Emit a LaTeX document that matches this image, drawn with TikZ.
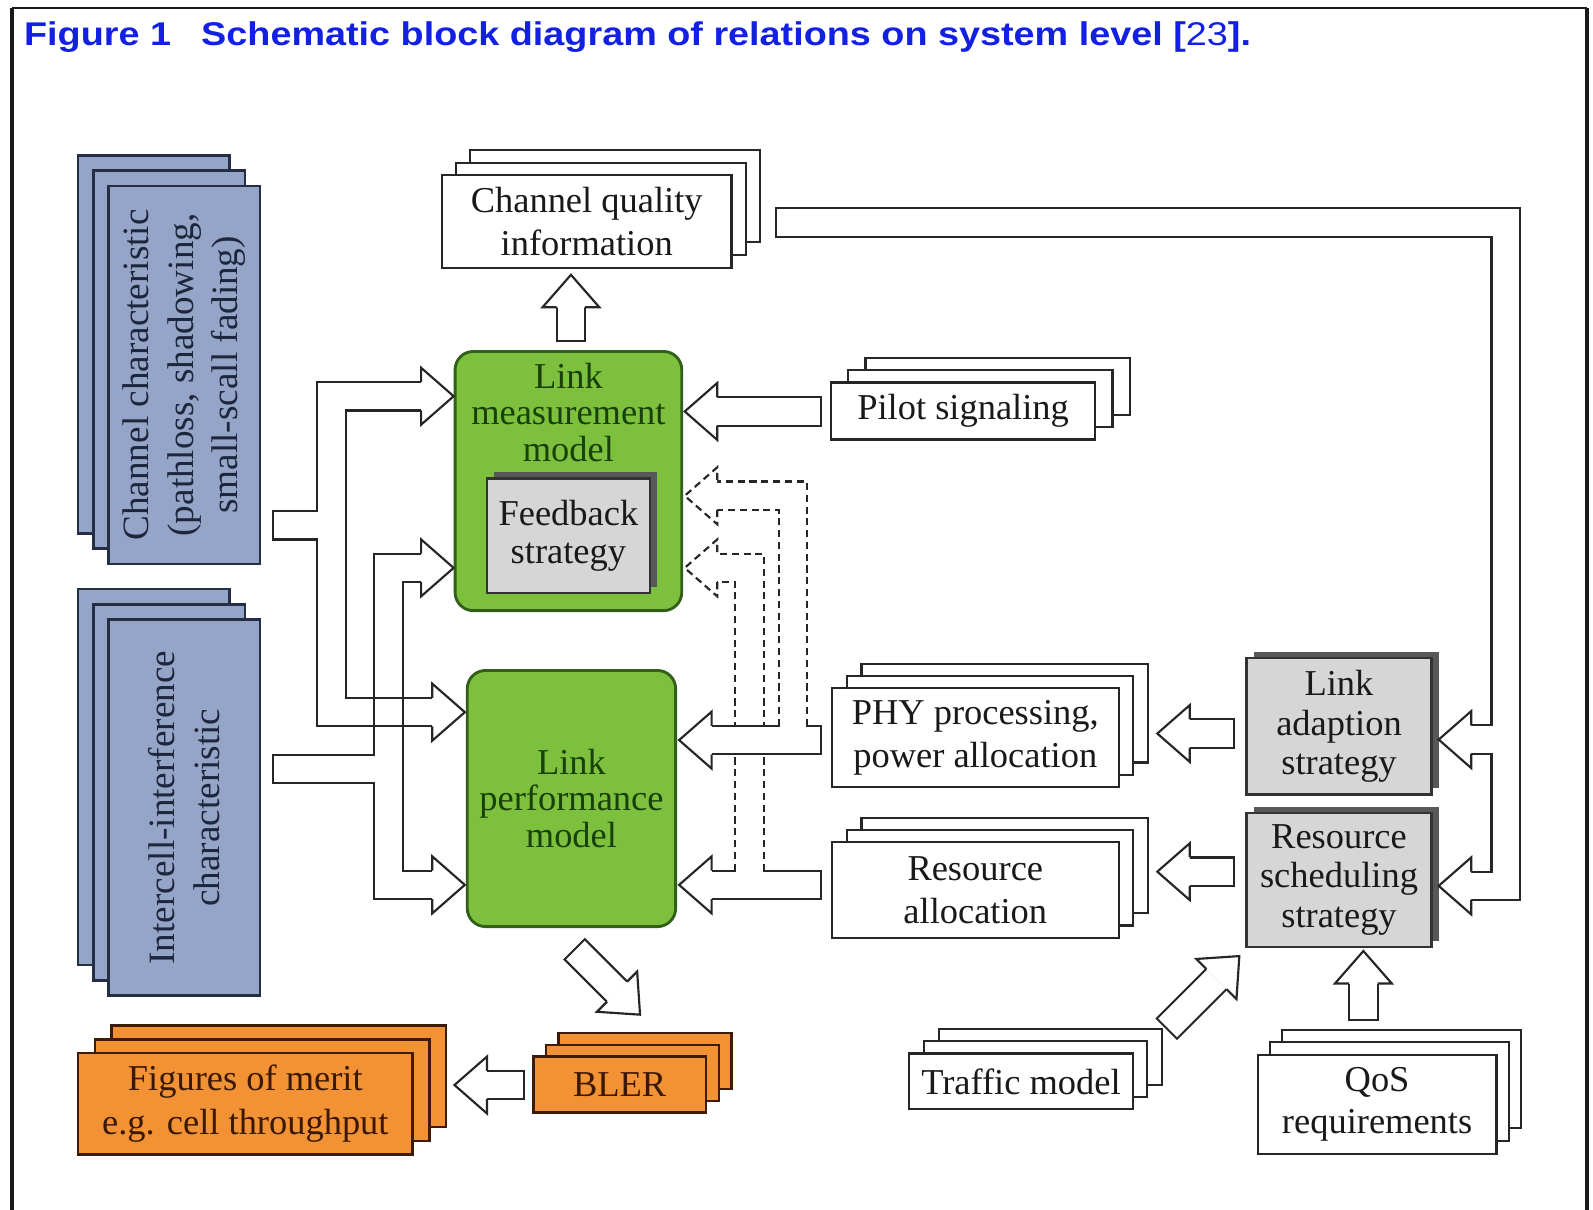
\documentclass[tikz,border=0pt]{standalone}
\usepackage{fontspec}
\setmainfont{Liberation Serif}
\newfontfamily\headfont{Liberation Sans}
\usepackage{graphicx}
\usetikzlibrary{calc,shadows}

\definecolor{titleblue}{RGB}{18,32,228}
\definecolor{chfill}{RGB}{149,165,199}
\definecolor{chline}{RGB}{38,46,70}
\definecolor{chtext}{RGB}{30,38,62}
\definecolor{gfill}{RGB}{125,192,62}
\definecolor{gline}{RGB}{50,96,24}
\definecolor{gtext}{RGB}{24,64,8}
\definecolor{ofill}{RGB}{242,146,52}
\definecolor{oline}{RGB}{60,28,6}
\definecolor{otext}{RGB}{58,24,2}
\definecolor{sfill}{RGB}{214,214,214}
\definecolor{sshadow}{RGB}{88,88,88}

\tikzset{
  txt/.style={font=\fontsize{10.2}{12}\selectfont, align=center},
  stack/.style 2 args={copy shadow={shadow xshift=#1, shadow yshift=#2}},
  wbox/.style={draw=black!85, fill=white, line width=0.6pt, text=black!90, txt},
  bbox/.style={draw=chline, fill=chfill, line width=0.7pt},
  obox/.style={draw=oline, fill=ofill, line width=0.7pt, text=otext, font=\fontsize{10.2}{12.4}\selectfont, align=center},
  gbox/.style={draw=gline, fill=gfill, line width=0.8pt, rounded corners=0.18cm, text=gtext, font=\fontsize{10.2}{10.2}\selectfont, align=center},
  sbox/.style={draw=black!80, fill=sfill, line width=0.6pt, text=black!90, font=\fontsize{10.2}{11}\selectfont, align=center,
    drop shadow={shadow xshift=0.07cm, shadow yshift=0.06cm, fill=sshadow, opacity=1}},
  shaft/.style={line width=8.57pt, black!85, line join=miter, line cap=butt},
  hollow/.style={line width=7.37pt, white, line join=miter, line cap=butt, shorten <=0.6pt},
  dashes/.style={dash pattern=on 2pt off 1.3pt},
  fbline/.style={line width=0.6pt, black!85, dashes},
  bhead/.pic={\filldraw[fill=white, draw=black!85, line width=0.6pt, line join=miter] (-32,-14) -- (-32,-28) -- (0,0) -- (-32,28) -- (-32,14);}
}

\begin{document}
\begin{tikzpicture}[x=0.01cm, y=-0.01cm]
\useasboundingbox (0,0) rectangle (1568,1191);
\fill[white] (0,0) rectangle (1568,1191);
% frame and caption
\draw[line width=1.2pt, black!90] (12,1191) -- (12,8);
\draw[line width=1.2pt, black!90] (1562,8) -- (1562,1191);
\draw[line width=0.7pt, black!90] (12,8) -- (1562,8);
\node[anchor=base west, inner sep=0pt, text=titleblue] (caption) at (23,45)
  {\headfont\fontsize{9.2}{10}\selectfont\bfseries\resizebox{12.07cm}{\height}{Figure 1\hspace{0.8em}Schematic block diagram of relations on system level [{\mdseries 23}].}};

% input characteristics
\node[bbox, stack={-0.30cm}{0.30cm}, stack={-0.15cm}{0.15cm}, minimum width=1.49cm, minimum height=3.72cm] (chan) at (181.5,369) {};
\node[txt, rotate=90, text=chtext, font=\fontsize{10.4}{12.5}\selectfont] at (chan) {Channel characteristic\\(pathloss, shadowing,\\small-scall fading)};
\node[bbox, stack={-0.30cm}{0.30cm}, stack={-0.15cm}{0.15cm}, minimum width=1.49cm, minimum height=3.70cm] (inter) at (181.5,795) {};
\node[txt, rotate=90, text=chtext, font=\fontsize{10.4}{12.5}\selectfont] at (inter) {Intercell-interference\\characteristic};

% link models
\node[wbox, stack={0.28cm}{0.25cm}, stack={0.14cm}{0.125cm}, minimum width=2.85cm, minimum height=0.88cm] (cqi) at (577.5,218) {Channel quality\\information};
\node[gbox, minimum width=2.23cm, minimum height=2.55cm] (lmm) at (559.5,473.5) {};
\node[text=gtext, font=\fontsize{10.2}{10.2}\selectfont, align=center, anchor=north, inner sep=0pt] at ($(lmm.north)+(0,12)$) {Link\\measurement\\model};
\node[sbox, minimum width=1.57cm, minimum height=1.13cm, font=\fontsize{10.2}{10.5}\selectfont] (fb) at (559.5,527.5) {Feedback\\strategy};
\node[gbox, minimum width=2.05cm, minimum height=2.52cm] (lpm) at (562.5,786) {Link\\performance\\model};

% right side
\node[wbox, stack={0.34cm}{0.24cm}, stack={0.17cm}{0.12cm}, minimum width=2.60cm, minimum height=0.55cm] (pilot) at (948,404.5) {Pilot signaling};
\node[wbox, stack={0.29cm}{0.24cm}, stack={0.145cm}{0.12cm}, minimum width=2.82cm, minimum height=0.92cm] (phy) at (960,726) {PHY processing,\\power allocation};
\node[wbox, stack={0.29cm}{0.24cm}, stack={0.145cm}{0.12cm}, minimum width=2.82cm, minimum height=0.94cm] (resalloc) at (960,876) {Resource\\allocation};
\node[sbox, minimum width=1.82cm, minimum height=1.34cm] (las) at (1318,715) {Link\\adaption\\strategy};
\node[sbox, minimum width=1.82cm, minimum height=1.32cm] (rss) at (1318,866) {Resource\\scheduling\\strategy};
\node[wbox, stack={0.29cm}{0.24cm}, stack={0.145cm}{0.12cm}, minimum width=2.16cm, minimum height=0.55cm] (traffic) at (1005,1064.5) {Traffic model};
\node[wbox, stack={0.24cm}{0.25cm}, stack={0.12cm}{0.125cm}, minimum width=2.35cm, minimum height=0.94cm] (qos) at (1355.5,1087) {QoS\\requirements};

% outputs
\node[obox, stack={0.25cm}{0.23cm}, stack={0.125cm}{0.115cm}, minimum width=1.70cm, minimum height=0.55cm] (bler) at (610,1067.5) {BLER};
\node[obox, stack={0.33cm}{0.27cm}, stack={0.165cm}{0.135cm}, minimum width=3.29cm, minimum height=0.99cm] (figs) at (241.5,1086.5) {Figures of merit\\e.g. cell throughput};

% arrow ends
\coordinate (upT) at ($(lmm.north)+(2.5,-8)$);
\coordinate (upH) at ($(upT |- cqi.south)+(0,6)$);
\coordinate (plT) at ($(pilot.west)+(-8,0.5)$);
\coordinate (plH) at ($(lmm.east |- plT)+(1.5,0)$);
\coordinate (phT) at ($(phy.west)+(-9,2.5)$);
\coordinate (phH) at ($(lpm.east |- phT)+(2,0)$);
\coordinate (raT) at ($(resalloc.west)+(-9,-5)$);
\coordinate (raH) at ($(lpm.east |- raT)+(2,0)$);
\coordinate (fbH1) at ($(lmm.east)+(1.5,14.5)$);
\coordinate (fbH2) at ($(lmm.east)+(1.5,85.5)$);
\coordinate (laT) at ($(las.west)+(-10,7)$);
\coordinate (laH) at ($(phy.east |- laT)+(37,0)$);
\coordinate (rsT) at ($(rss.west)+(-10,-8)$);
\coordinate (rsH) at ($(resalloc.east |- rsT)+(37,0)$);
\coordinate (lpT) at ($(cqi.east)+(42,1)$);
\coordinate (lpH1) at ($(las.east)+(6,13)$);
\coordinate (lpH2) at ($(rss.east)+(6,6)$);
\coordinate (qoT) at ($(qos.north)+(-13.5,-32)$);
\coordinate (qoH) at ($(qoT |- rss.south)+(0,3)$);
\coordinate (trH) at ($(rss.south west)+(-6,8)$);
\coordinate (trT) at ($(trH)+(-72,72)$);
\coordinate (blH) at ($(bler.north)+(20,-40)$);
\coordinate (blT) at ($(blH)+(-65,-65)$);
\coordinate (fgT) at ($(bler.west)+(-7,0.5)$);
\coordinate (fgH) at ($(figs.east |- fgT)+(40,0)$);
\coordinate (chS) at ($(chan.east)+(10,148)$);
\coordinate (icS) at ($(inter.east)+(10,-38)$);
\coordinate (in1) at ($(lmm.west)+(0,-83.5)$);
\coordinate (in2) at ($(lmm.west)+(0,85.5)$);
\coordinate (in3) at ($(lpm.west)+(-1,-85)$);
\coordinate (in4) at ($(lpm.west)+(-1,85)$);

% block arrow shafts
\foreach \s in {shaft,hollow} \foreach \t in {in1,in3}
  \draw[\s] (chS) -- ++(59,0) |- ($(\t)+(-32,0)$);
\foreach \s in {shaft,hollow} \foreach \t in {in2,in4}
  \draw[\s] (icS) -- ++(115,0) |- ($(\t)+(-32,0)$);
\draw[line width=0.6pt, black!85] ($(in3)+(-100,-14)$) -- ++(44,0) ($(in3)+(-100,14)$) -- ++(44,0);

% feedback branches (dashed)
\draw[shaft] (raT) -- ($(raH)+(32,0)$);
\draw[hollow] (raT) -- ($(raH)+(32,0)$);
\draw[hollow] ($(raT)+(-71,0)$) |- ($(fbH2)+(32,0)$);
\draw[fbline] ($(raT)+(-57,-14)$) |- ($(fbH2)+(32,-14)$);
\draw[fbline] ($(raT)+(-85,-14)$) |- ($(fbH2)+(32,14)$);
\draw[shaft] (phT) -- ($(phH)+(32,0)$);
\draw[hollow] (phT) -- ($(phH)+(32,0)$);
\draw[hollow] ($(phT)+(-28.5,0)$) |- ($(fbH1)+(32,0)$);
\draw[fbline] ($(phT)+(-14.5,-14)$) |- ($(fbH1)+(32,-14)$);
\draw[fbline] ($(phT)+(-42.5,-14)$) |- ($(fbH1)+(32,14)$);

\foreach \s in {shaft,hollow}{
  \draw[\s] (lpT) -| ($(lpH1)+(66,0)$) -- ($(lpH1)+(32,0)$);
  \draw[\s] ($(lpH1)+(66,-20)$) |- ($(lpH2)+(32,0)$);
}

\foreach \s in {shaft,hollow}{
  \draw[\s] (upT) -- ($(upH)+(0,32)$);
  \draw[\s] (plT) -- ($(plH)+(32,0)$);
  \draw[\s] (laT) -- ($(laH)+(32,0)$);
  \draw[\s] (rsT) -- ($(rsH)+(32,0)$);
  \draw[\s] (qoT) -- ($(qoH)+(0,32)$);
  \draw[\s] (trT) -- ($(trH)+(-22.6,22.6)$);
  \draw[\s] (blT) -- ($(blH)+(-22.6,-22.6)$);
  \draw[\s] (fgT) -- ($(fgH)+(32,0)$);
}

% heads
\foreach \h in {plH,phH,raH,laH,rsH,lpH1,lpH2,fgH} \pic[rotate=180] at (\h) {bhead};
\foreach \h in {in1,in2,in3,in4} \pic at (\h) {bhead};
\foreach \h in {upH,qoH} \pic[rotate=90] at (\h) {bhead};
\pic[rotate=45] at (trH) {bhead};
\pic[rotate=-45] at (blH) {bhead};
\foreach \h in {fbH1,fbH2} \pic[rotate=180, dashes] at (\h) {bhead};
\end{tikzpicture}
\end{document}
